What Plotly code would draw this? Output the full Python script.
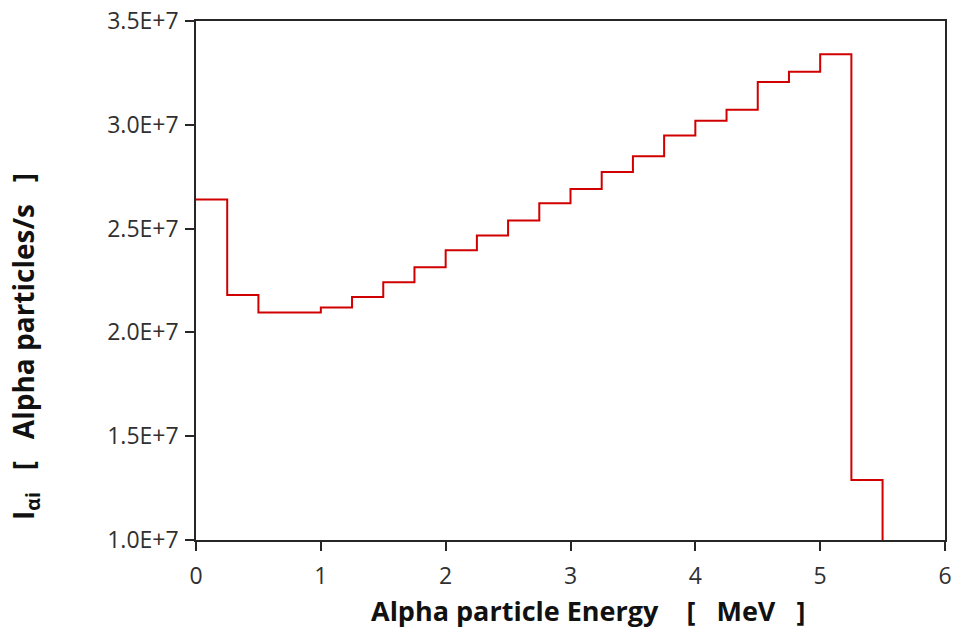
import plotly.graph_objects as go

# Bin edges (MeV) and intensity per bin (alpha particles/s)
energy_edges = [0.0, 0.25, 0.5, 0.75, 1.0, 1.25, 1.5, 1.75, 2.0, 2.25, 2.5,
                2.75, 3.0, 3.25, 3.5, 3.75, 4.0, 4.25, 4.5, 4.75, 5.0, 5.25, 5.5]
intensity = [2.640e7, 2.180e7, 2.096e7, 2.096e7, 2.120e7, 2.171e7, 2.241e7,
             2.314e7, 2.396e7, 2.467e7, 2.539e7, 2.622e7, 2.691e7, 2.773e7,
             2.849e7, 2.948e7, 3.019e7, 3.072e7, 3.206e7, 3.256e7, 3.340e7,
             1.289e7, 0.0]

y_tickvals = [1.0e7, 1.5e7, 2.0e7, 2.5e7, 3.0e7, 3.5e7]
y_ticktext = ["1.0E+7", "1.5E+7", "2.0E+7", "2.5E+7", "3.0E+7", "3.5E+7"]
x_tickvals = [0, 1, 2, 3, 4, 5, 6]

NB = "\u00a0"
x_title = "Alpha particle Energy" + NB * 4 + "[" + NB * 3 + "MeV" + NB * 3 + "]"
y_title = "I<sub>\u03b1i</sub>" + NB * 3 + "[" + NB * 3 + "Alpha particles/s" + NB * 3 + "]"

FONT = "Open Sans, Arial, sans-serif"
W, H = 956, 635
ML, MR, MT, MB = 196, 11, 21, 95
PW, PH = W - ML - MR, H - MT - MB

fig = go.Figure()
fig.add_trace(go.Scatter(
    x=energy_edges, y=intensity, mode="lines",
    line=dict(shape="hv", color="#d00000", width=2),
    showlegend=False, hoverinfo="x+y",
))

axis_common = dict(
    showgrid=False, zeroline=False, showline=True, linecolor="#262626",
    linewidth=1.5, mirror=True, ticks="outside", ticklen=9, tickwidth=1.5,
    tickcolor="#262626", automargin=False,
    tickfont=dict(family=FONT, size=23, color="#303030"),
)

title_font = dict(family=FONT, size=27, color="#111111", weight="bold")
ytitle_font = dict(family=FONT, size=28, color="#111111", weight="bold")

fig.update_layout(
    width=W, height=H,
    margin=dict(l=ML, r=MR, t=MT, b=MB),
    paper_bgcolor="white", plot_bgcolor="white",
    xaxis=dict(range=[0, 6], tickvals=x_tickvals, ticklabelstandoff=6,
               **axis_common),
    yaxis=dict(range=[1.0e7, 3.5e7], tickvals=y_tickvals, ticktext=y_ticktext,
               ticklabelstandoff=2, **axis_common),
    annotations=[
        dict(text=x_title, xref="paper", yref="paper",
             x=(588 - ML) / PW, y=(H - MB - 610) / PH,
             xanchor="center", yanchor="middle", showarrow=False,
             font=title_font),
        dict(text=y_title, xref="paper", yref="paper", textangle=-90,
             x=(25 - ML) / PW, y=(H - MB - 347) / PH,
             xanchor="center", yanchor="middle", showarrow=False,
             font=ytitle_font),
    ],
)

fig.write_html("out.html", config={"displayModeBar": False},
               post_script="document.body.style.margin='0';")
